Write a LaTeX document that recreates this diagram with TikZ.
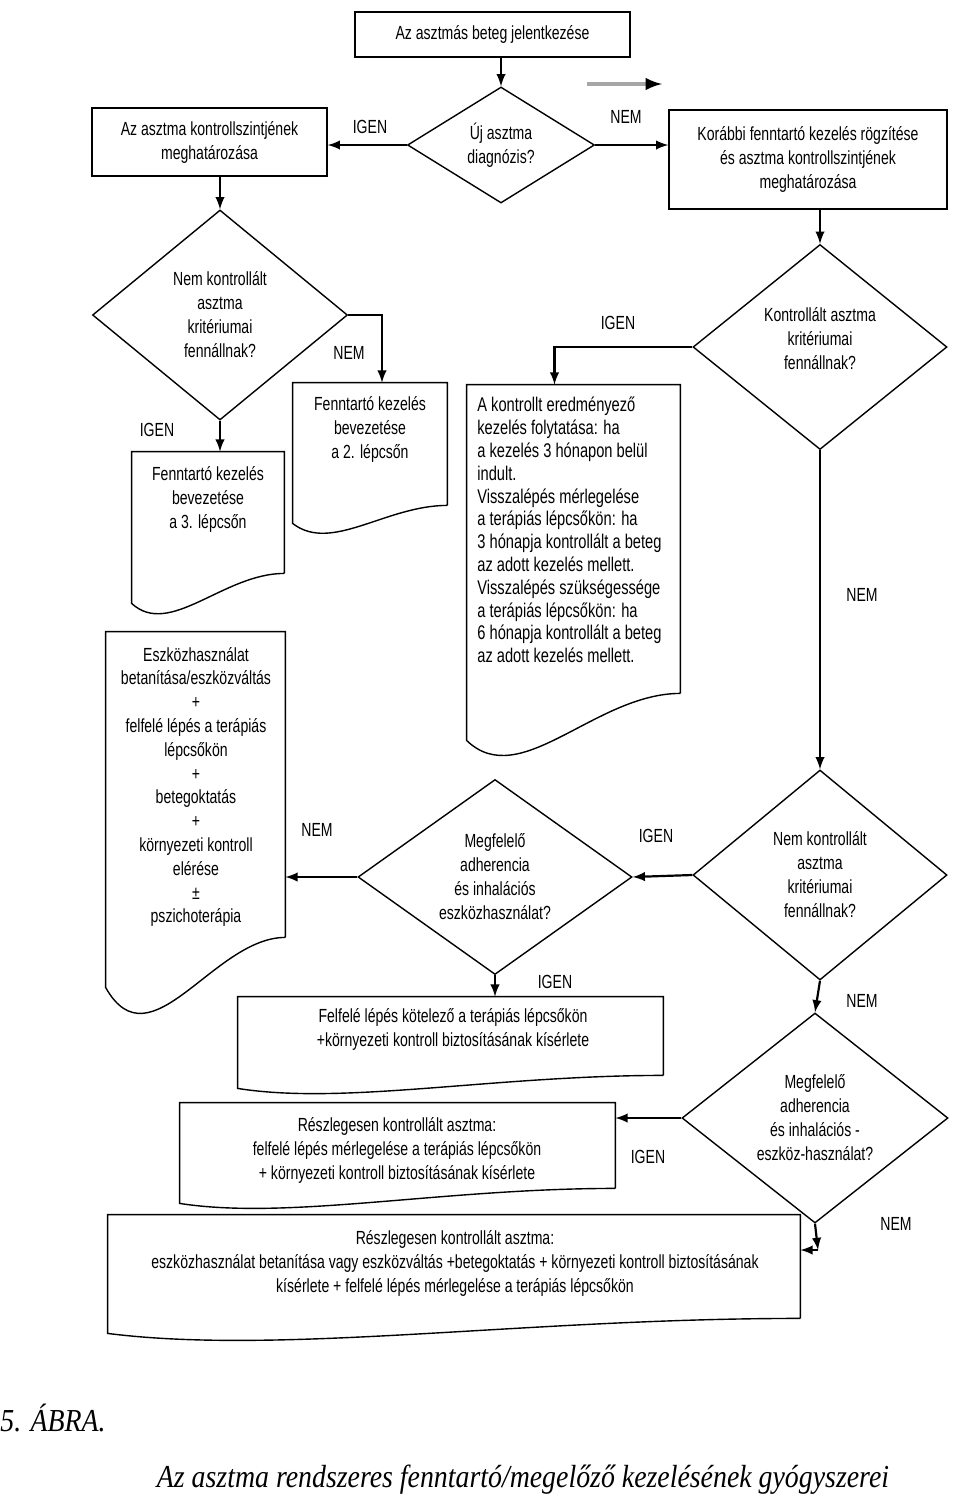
\documentclass[tikz,border=0pt]{standalone}
\usepackage{fontspec}
\setmainfont{Liberation Serif}
\newfontfamily\chartfont[FakeStretch=0.74]{Liberation Sans}
\newfontfamily\capfont[FakeStretch=0.87]{Liberation Serif}
\usetikzlibrary{shapes.geometric,fit,calc}

% document shape: name, left drop, dip of the wave
\newcommand{\wavedoc}[3]{%
  \draw[boxline] (#1.south east) -- (#1.north east) -- (#1.north west)
    -- ($(#1.south west)+(0,#2)$)
    .. controls ($(#1.south west)!0.25!(#1.south east)+(0,#2+#3)$)
    and ($(#1.south west)!0.6!(#1.south east)$) .. (#1.south east);
}

\begin{document}
\begin{tikzpicture}[
    x=0.5pt, y=-0.5pt,
    >=latex,
    font=\chartfont\fontsize{9.5}{12}\selectfont,
    boxline/.style={line width=0.7pt},
    procbox/.style={draw, boxline, inner sep=0pt, align=center},
    docbox/.style={inner sep=0pt},
    doctext/.style={align=center, inner sep=0pt},
    decision/.style={diamond, draw, boxline, inner sep=0pt, align=center},
    flow/.style={->, line width=1.1pt},
    yn/.style={inner sep=1pt}
]

\useasboundingbox (0,0) rectangle (960,1495);

\node[procbox, minimum width=137.5pt, minimum height=22.5pt] (start) at (492.5,34.5)
    {Az asztmás beteg jelentkezése};

\node[decision, minimum width=93.5pt, minimum height=58pt, aspect=1.6]
    (dnew) at (501,145) {Új asztma\\diagnózis?};

\node[procbox, minimum width=117.5pt, minimum height=34pt] (ctrlnew) at (209.5,142)
    {Az asztma kontrollszintjének\\meghatározása};

\node[procbox, minimum width=139pt, minimum height=49.5pt] (prevtx) at (808,159.5)
    {Korábbi fenntartó kezelés rögzítése\\és asztma kontrollszintjének\\meghatározása};

\node[decision, minimum width=127.5pt, minimum height=105pt, aspect=1.2]
    (dunc1) at (220,315) {Nem kontrollált\\asztma\\kritériumai\\fennállnak?};

\node[docbox, fit={(293,383) (447,505)}] (step2) {};
\node[doctext] (step2txt) at (370,429) {Fenntartó kezelés\\bevezetése\\a 2. lépcsőn};

\node[docbox, fit={(132,452) (284,573)}] (step3) {};
\node[doctext] (step3txt) at (208,499) {Fenntartó kezelés\\bevezetése\\a 3. lépcsőn};

\node[decision, minimum width=127pt, minimum height=102.5pt, aspect=1.25]
    (dctrl) at (820,347) {};
\node[doctext] (dctrltxt) at (820,339) {Kontrollált asztma\\kritériumai\\fennállnak?};

\node[docbox, fit={(467,385) (680,693)}] (cont) {};
\node[doctext, align=left, anchor=west, font=\chartfont\fontsize{9.9}{11.4}\selectfont]
    (conttxt) at (477,530)
    {A kontrollt eredményező\\kezelés folytatása: ha\\a kezelés 3 hónapon belül\\indult.\\
     Visszalépés mérlegelése\\a terápiás lépcsőkön: ha\\3 hónapja kontrollált a beteg\\az adott kezelés mellett.\\
     Visszalépés szükségessége\\a terápiás lépcsőkön: ha\\6 hónapja kontrollált a beteg\\az adott kezelés mellett.};

\node[decision, minimum width=127pt, minimum height=105pt, aspect=1.2]
    (dunc2) at (820,875) {Nem kontrollált\\asztma\\kritériumai\\fennállnak?};

\node[decision, minimum width=137pt, minimum height=97.5pt, aspect=1.4]
    (dadh1) at (495,877) {Megfelelő\\adherencia\\és inhalációs\\eszközhasználat?};

\node[docbox, fit={(106,632) (285,937)}] (device) {};
\node[doctext, font=\chartfont\fontsize{9.5}{11.9}\selectfont] (devicetxt) at (196,787)
    {Eszközhasználat\\betanítása/eszközváltás\\+\\felfelé lépés a terápiás\\lépcsőkön\\+\\
     betegoktatás\\+\\környezeti kontroll\\elérése\\±\\pszichoterápia};

\node[docbox, fit={(238,997) (663,1075)}] (stepup) {};
\node[doctext] (stepuptxt) at (453,1029)
    {Felfelé lépés kötelező a terápiás lépcsőkön\\+környezeti kontroll biztosításának kísérlete};

\node[decision, minimum width=133pt, minimum height=105pt, aspect=1.26]
    (dadh2) at (815,1118) {Megfelelő\\adherencia\\és inhalációs -\\eszköz-használat?};

\node[docbox, fit={(180,1103) (615,1188)}] (partial1) {};
\node[doctext] (partial1txt) at (397,1150)
    {Részlegesen kontrollált asztma:\\felfelé lépés mérlegelése a terápiás lépcsőkön\\+ környezeti kontroll biztosításának kísérlete};

\node[docbox, fit={(108,1215) (800,1318)}] (partial2) {};
\node[doctext] (partial2txt) at (455,1263)
    {Részlegesen kontrollált asztma:\\eszközhasználat betanítása vagy eszközváltás +betegoktatás + környezeti kontroll biztosításának\\kísérlete + felfelé lépés mérlegelése a terápiás lépcsőkön};

\wavedoc{step2}{18}{30}
\wavedoc{step3}{30}{35}
\wavedoc{cont}{47}{52}
\wavedoc{device}{50}{80}
\wavedoc{stepup}{13}{17}
\wavedoc{partial1}{15}{17}
\wavedoc{partial2}{15}{22}

% connectors
\draw[flow] (start.south -| dnew.north) -- (dnew.north);
\draw[flow] (dnew.west) -- (dnew.west -| ctrlnew.east);
\draw[flow] (dnew.east) -- (dnew.east -| prevtx.west);
\draw[flow] (ctrlnew.south -| dunc1.north) -- (dunc1.north);
\draw[flow] (dunc1.east) -| ([xshift=6pt]step2.north);
\draw[flow] (dunc1.south) -- (dunc1.south |- step3.north);
\draw[flow] (prevtx.south -| dctrl.north) -- (dctrl.north);
\draw[flow] (dctrl.west) -| ([xshift=-9.5pt]cont.north);
\draw[flow] (dctrl.south) -- (dunc2.north);
\draw[flow] (dunc2.west) -- (dadh1.east);
\draw[flow] (dadh1.west) -- (dadh1.west -| device.east);
\draw[flow] (dadh1.south) -- (dadh1.south |- stepup.north);
\draw[flow] (dunc2.south) -- (dadh2.north);
\draw[flow] (dadh2.west) -- (dadh2.west -| partial1.east);
\coordinate (nemturn) at (818,1250);
\draw[flow] (dadh2.south) -- (nemturn);
\draw[flow] (nemturn) -- (nemturn -| partial2.east);

% stray arrow
\coordinate (strayA) at (587,84);
\coordinate (strayB) at (662,84);
\draw[gray!70, line width=1.6pt] (strayA) -- ([xshift=-4pt]strayB);
\draw[->, line width=1.8pt] ([xshift=-6pt]strayB) -- (strayB);

% answer labels
\node[yn] (l1) at (370,127) {IGEN};
\node[yn] (l2) at (626,117) {NEM};
\node[yn] (l3) at (349,353) {NEM};
\node[yn] (l4) at (157,430) {IGEN};
\node[yn] (l5) at (618,323) {IGEN};
\node[yn] (l6) at (862,595) {NEM};
\node[yn] (l7) at (656,836) {IGEN};
\node[yn] (l8) at (317,830) {NEM};
\node[yn] (l9) at (555,982) {IGEN};
\node[yn] (l10) at (862,1001) {NEM};
\node[yn] (l11) at (648,1157) {IGEN};
\node[yn] (l12) at (896,1224) {NEM};

% caption
\node[anchor=west, inner sep=0pt, font=\capfont\itshape\fontsize{16}{19}\selectfont]
    (abra) at (0,1418) {5. ÁBRA.};
\node[inner sep=0pt, font=\capfont\itshape\fontsize{16}{19}\selectfont]
    (caption) at (523,1480) {Az asztma rendszeres fenntartó/megelőző kezelésének gyógyszerei};

\end{tikzpicture}
\end{document}
